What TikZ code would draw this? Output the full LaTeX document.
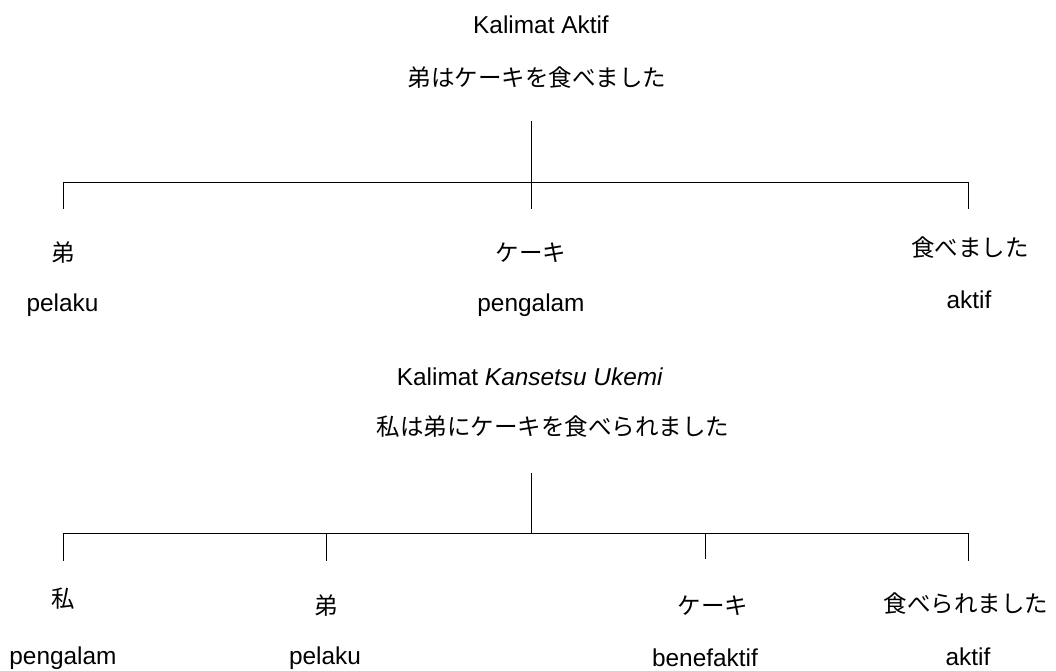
\documentclass[tikz,border=0pt]{standalone}
\usepackage{fontspec}
\setmainfont{Liberation Sans}
\newfontfamily\jp{Noto Sans CJK JP}
\begin{document}
\begin{tikzpicture}[x=1pt,y=-1pt,
  lat/.style={inner sep=0pt,anchor=base,font=\fontsize{24.4}{28}\selectfont},
  jap/.style={inner sep=0pt,anchor=center,font=\jp\fontsize{23.5}{28}\selectfont},
  tree/.style={draw=black,line width=0.9pt}]
\useasboundingbox (0,0) rectangle (1056,670);
% --- Kalimat Aktif ---
\node[lat] (t1) at (541,33) {Kalimat Aktif};
\node[jap] (s1) at (537,78) {弟はケーキを食べました};
\coordinate (r1) at (531,121);
\coordinate (j1) at (531,182);
\coordinate (l1) at (63,182);
\coordinate (e1) at (968,182);
\coordinate (l1b) at (63,209);
\coordinate (m1b) at (531,209);
\coordinate (e1b) at (968,209);
\draw[tree] (r1) -- (m1b);
\draw[tree] (l1b) -- (l1) -- (e1) -- (e1b);
\node[jap] (a1) at (63,252.5) {弟};
\node[jap] (a2) at (531,252.5) {ケーキ};
\node[jap] (a3) at (970,248) {食べました};
\node[lat] (b1) at (62.5,311) {pelaku};
\node[lat] (b2) at (531,311) {pengalam};
\node[lat] (b3) at (969,308) {aktif};
% --- Kalimat Kansetsu Ukemi ---
\node[lat] (t2) at (530,385) {Kalimat \textit{Kansetsu Ukemi}};
\node[jap] (s2) at (553,427) {私は弟にケーキを食べられました};
\coordinate (r2) at (531,473);
\coordinate (j2) at (531,533);
\coordinate (l2) at (63,533);
\coordinate (e2) at (968,533);
\coordinate (p2) at (326,533);
\coordinate (q2) at (705,533);
\coordinate (l2b) at (63,561);
\coordinate (p2b) at (326,561);
\coordinate (q2b) at (705,559);
\coordinate (e2b) at (968,561);
\draw[tree] (r2) -- (j2);
\draw[tree] (l2b) -- (l2) -- (e2) -- (e2b);
\draw[tree] (p2) -- (p2b);
\draw[tree] (q2) -- (q2b);
\node[jap] (c1) at (63,599) {私};
\node[jap] (c2) at (326,606) {弟};
\node[jap] (c3) at (713,606) {ケーキ};
\node[jap] (c4) at (966,604) {食べられました};
\node[lat] (d1) at (63,664) {pengalam};
\node[lat] (d2) at (325,664) {pelaku};
\node[lat] (d3) at (705,666) {benefaktif};
\node[lat] (d4) at (968,665) {aktif};
\end{tikzpicture}
\end{document}
